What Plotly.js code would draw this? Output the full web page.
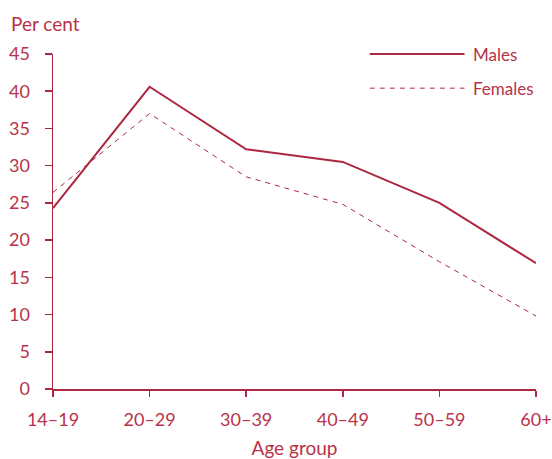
<!DOCTYPE html>
<html>
<head>
<meta charset="utf-8">
<script src="https://cdn.plot.ly/plotly-3.0.1.min.js"></script>
<style>html,body{margin:0;padding:0;background:#fff;}#chart{width:552px;height:459px;}</style>
</head>
<body>
<div id="chart"></div>
<script>
const ageGroups = ["14–19", "20–29", "30–39", "40–49", "50–59", "60+"];
const males = [24.3, 40.6, 32.2, 30.5, 25.0, 16.9];
const females = [26.4, 37.0, 28.5, 24.8, 17.1, 9.8];
const yTicks = [0, 5, 10, 15, 20, 25, 30, 35, 40, 45];

const red = "#ac2740";
const textRed = "#b8324a";
const font = "Lato, Open Sans, sans-serif";

const traces = [
  {x: ageGroups, y: males, type: "scatter", mode: "lines", name: "Males",
   line: {color: red, width: 2}, showlegend: false, cliponaxis: false},
  {x: ageGroups, y: females, type: "scatter", mode: "lines", name: "Females",
   line: {color: red, width: 1, dash: "5px,5px"}, showlegend: false, cliponaxis: false}
];

const layout = {
  width: 552, height: 459,
  margin: {l: 53, r: 16, t: 54, b: 70},
  paper_bgcolor: "#fff", plot_bgcolor: "#fff",
  font: {family: font, color: textRed, size: 18},
  xaxis: {
    type: "category", range: [0, ageGroups.length - 1],
    showgrid: false, zeroline: false, showline: true, linecolor: red, linewidth: 1.5,
    ticks: "outside", ticklen: 6, tickcolor: red, tickwidth: 1.5,
    ticklabelstandoff: 8,
    tickfont: {size: 18, color: textRed},
    title: {text: "Age group", font: {size: 19, color: textRed}, standoff: 12}
  },
  yaxis: {
    range: [0, 45], tickvals: yTicks, ticktext: yTicks.map(String),
    showgrid: false, zeroline: false, showline: true, linecolor: red, linewidth: 1.5,
    ticks: "outside", ticklen: 7, tickcolor: red, tickwidth: 1.5,
    ticklabelstandoff: 11,
    tickfont: {size: 18, color: textRed}
  },
  shapes: [
    {type: "line", xref: "paper", yref: "paper", x0: 0.656, x1: 0.852, y0: 1.0, y1: 1.0,
     line: {color: red, width: 2}},
    {type: "line", xref: "paper", yref: "paper", x0: 0.656, x1: 0.852, y0: 0.898, y1: 0.898,
     line: {color: red, width: 1, dash: "5px,5px"}}
  ],
  annotations: [
    {text: "Per cent", xref: "paper", yref: "paper", x: -0.091, y: 1.052, xanchor: "left", yanchor: "bottom",
     showarrow: false, font: {size: 19, color: textRed}},
    {text: "Males", xref: "paper", yref: "paper", x: 0.866, y: 1.0, xanchor: "left", yanchor: "middle",
     showarrow: false, font: {size: 17, color: textRed}},
    {text: "Females", xref: "paper", yref: "paper", x: 0.866, y: 0.898, xanchor: "left", yanchor: "middle",
     showarrow: false, font: {size: 17, color: textRed}}
  ]
};

Plotly.newPlot("chart", traces, layout, {displayModeBar: false, staticPlot: true});
</script>
</body>
</html>
